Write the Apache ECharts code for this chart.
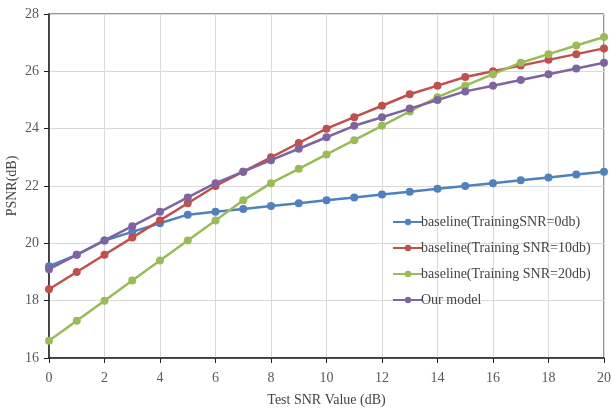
<!DOCTYPE html>
<html><head><meta charset="utf-8">
<script src="https://cdn.jsdelivr.net/npm/echarts@6/dist/echarts.min.js"></script>
<style>html,body{margin:0;padding:0;background:#fff}#c{width:612px;height:412px}</style>
</head><body><div id="c"></div>
<script>
const xValues = [0,1,2,3,4,5,6,7,8,9,10,11,12,13,14,15,16,17,18,19,20];
const seriesNames = ['baseline(TrainingSNR=0db)','baseline(Training SNR=10db)','baseline(Training SNR=20db)','Our model'];
const base0 = [19.2,19.6,20.1,20.4,20.7,21.0,21.1,21.2,21.3,21.4,21.5,21.6,21.7,21.8,21.9,22.0,22.1,22.2,22.3,22.4,22.5];
const base10 = [18.4,19.0,19.6,20.2,20.8,21.4,22.0,22.5,23.0,23.5,24.0,24.4,24.8,25.2,25.5,25.8,26.0,26.2,26.4,26.6,26.8];
const base20 = [16.6,17.3,18.0,18.7,19.4,20.1,20.8,21.5,22.1,22.6,23.1,23.6,24.1,24.6,25.1,25.5,25.9,26.3,26.6,26.9,27.2];
const ours = [19.1,19.6,20.1,20.6,21.1,21.6,22.1,22.5,22.9,23.3,23.7,24.1,24.4,24.7,25.0,25.3,25.5,25.7,25.9,26.1,26.3];
const colors = ['#4f81bd','#c0504d','#9bbb59','#8064a2'];
const allData = [base0, base10, base20, ours];
const font = '"Liberation Serif", "Times New Roman", serif';
const chart = echarts.init(document.getElementById('c'));
chart.setOption({
  animation:false,
  textStyle:{fontFamily:font},
  grid:{left:49,right:8,top:14,bottom:54,show:true,borderColor:'#333',borderWidth:1,containLabel:false,outerBoundsMode:'none'},
  legend:{
    orient:'vertical', left:387, top:210, itemGap:12, itemWidth:30, itemHeight:8,
    textStyle:{fontFamily:font,fontSize:14,color:'#444',padding:[0,0,0,-7]},
    data:seriesNames
  },
  xAxis:{
    type:'value', min:0, max:20, interval:2,
    name:'Test SNR Value (dB)', nameLocation:'middle', nameGap:35,
    nameTextStyle:{fontFamily:font,fontSize:14,color:'#444'},
    axisLine:{lineStyle:{color:'#222',width:1.5}},
    axisTick:{show:true,length:5,lineStyle:{color:'#222'}},
    axisLabel:{fontFamily:font,fontSize:14,color:'#595959',margin:13},
    splitLine:{lineStyle:{color:'#d9d9d9',width:1}}
  },
  yAxis:{
    type:'value', min:16, max:28, interval:2,
    name:'PSNR(dB)', nameLocation:'middle', nameGap:30, nameRotate:90, nameMoveOverlap:false,
    nameTextStyle:{fontFamily:font,fontSize:14,color:'#444'},
    axisLine:{show:true,lineStyle:{color:'#222',width:1.5}},
    axisTick:{show:true,length:5,lineStyle:{color:'#222'}},
    axisLabel:{fontFamily:font,fontSize:14,color:'#595959',margin:10},
    splitLine:{lineStyle:{color:'#d9d9d9',width:1}}
  },
  series: seriesNames.map((n,i)=>({
    name:n, type:'line', symbol:'circle', symbolSize:8,
    data: xValues.map((x,j)=>[x, allData[i][j]]),
    itemStyle:{color:colors[i]},
    lineStyle:{color:colors[i],width:2.5}
  }))
});
</script></body></html>
